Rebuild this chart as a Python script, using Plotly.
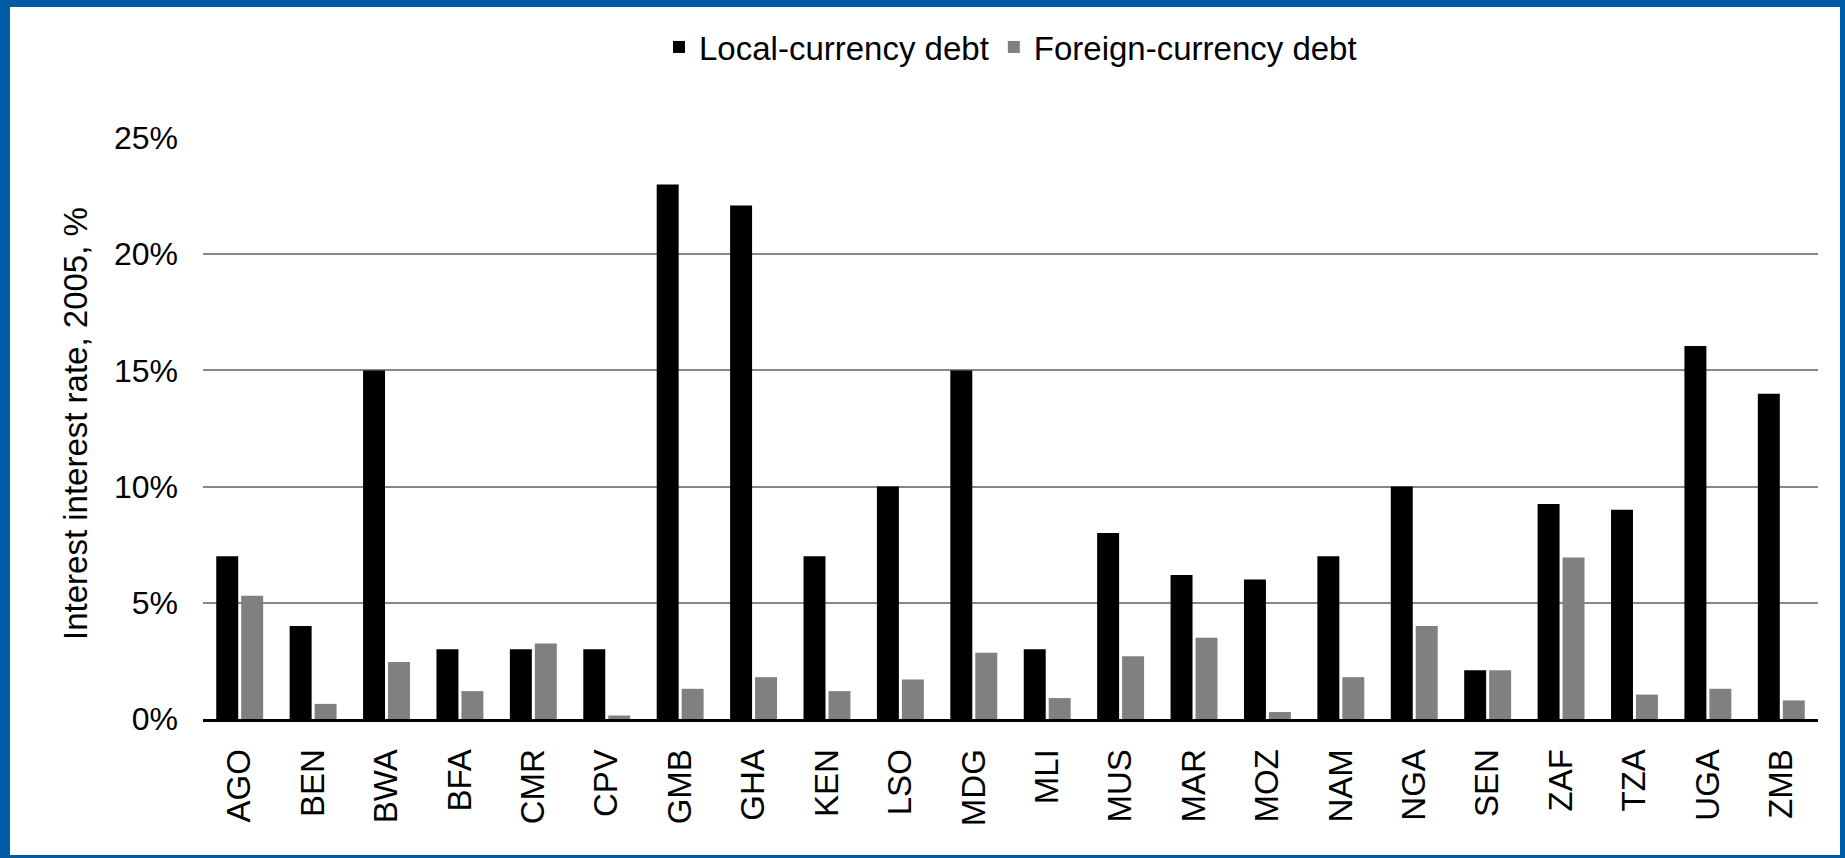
import plotly.graph_objects as go

countries = ["AGO", "BEN", "BWA", "BFA", "CMR", "CPV", "GMB", "GHA", "KEN", "LSO", "MDG",
             "MLI", "MUS", "MAR", "MOZ", "NAM", "NGA", "SEN", "ZAF", "TZA", "UGA", "ZMB"]
local_debt = [7.0, 4.0, 15.0, 3.0, 3.0, 3.0, 23.0, 22.1, 7.0, 10.0, 15.0,
              3.0, 8.0, 6.2, 6.0, 7.0, 10.0, 2.1, 9.25, 9.0, 16.05, 14.0]
foreign_debt = [5.3, 0.65, 2.45, 1.2, 3.25, 0.15, 1.3, 1.8, 1.2, 1.7, 2.85,
                0.9, 2.7, 3.5, 0.3, 1.8, 4.0, 2.1, 6.95, 1.05, 1.3, 0.8]
y_ticks = [0, 5, 10, 15, 20, 25]

W, H = 1845, 858
L, R, T, B = 203, 27, 138, 139
PW, PH = W - L - R, H - T - B
FONT = "Liberation Sans, Arial, sans-serif"
BLUE = "#005CA7"

fig = go.Figure()
fig.add_trace(go.Bar(name="Local-currency debt", x=countries, y=local_debt,
                     marker=dict(color="#000000", line=dict(width=0))))
fig.add_trace(go.Bar(name="Foreign-currency debt", x=countries, y=foreign_debt,
                     marker=dict(color="#808080", line=dict(width=0))))

def px_x(p):
    return (p - L) / PW

def px_y(p):
    return (H - B - p) / PH

shapes = [
    dict(type="rect", xref="paper", yref="paper", x0=px_x(0), x1=px_x(10), y0=px_y(H), y1=px_y(0),
         fillcolor=BLUE, line=dict(width=0)),
    dict(type="rect", xref="paper", yref="paper", x0=px_x(0), x1=px_x(W), y0=px_y(7), y1=px_y(0),
         fillcolor=BLUE, line=dict(width=0)),
    dict(type="rect", xref="paper", yref="paper", x0=px_x(W - 5), x1=px_x(W), y0=px_y(H), y1=px_y(0),
         fillcolor=BLUE, line=dict(width=0)),
    dict(type="rect", xref="paper", yref="paper", x0=px_x(0), x1=px_x(W), y0=px_y(H), y1=px_y(H - 3),
         fillcolor=BLUE, line=dict(width=0)),
]

fig.update_layout(
    width=W, height=H,
    margin=dict(l=L, r=R, t=T, b=B, pad=0),
    paper_bgcolor="white", plot_bgcolor="white",
    barmode="group", bargap=0.32, bargroupgap=0.12,
    font=dict(family=FONT, size=33, color="black"),
    legend=dict(orientation="h", x=0.5, xanchor="center", y=px_y(47), yanchor="middle",
                font=dict(family=FONT, size=33, color="black"), bgcolor="rgba(0,0,0,0)",
                traceorder="normal"),
    shapes=shapes,
    annotations=[dict(text="Interest interest rate, 2005, %", xref="paper", yref="paper",
                      x=px_x(75), y=px_y(424), xanchor="center", yanchor="middle",
                      textangle=-90, showarrow=False,
                      font=dict(family=FONT, size=33, color="black"))],
)
fig.update_xaxes(type="category", showline=True, linecolor="black", linewidth=3,
                 showgrid=False, ticks="", tickangle=-90, ticklabelstandoff=14,
                 tickfont=dict(family=FONT, size=33, color="black"))
fig.update_yaxes(range=[0, 25], tickvals=y_ticks, ticktext=[f"{v}%" for v in y_ticks],
                 showgrid=True, gridcolor="#878787", gridwidth=2, zeroline=False,
                 showline=False, ticks="", ticklabelstandoff=24,
                 tickfont=dict(family=FONT, size=32, color="black"))

fig.write_html("out.html")
